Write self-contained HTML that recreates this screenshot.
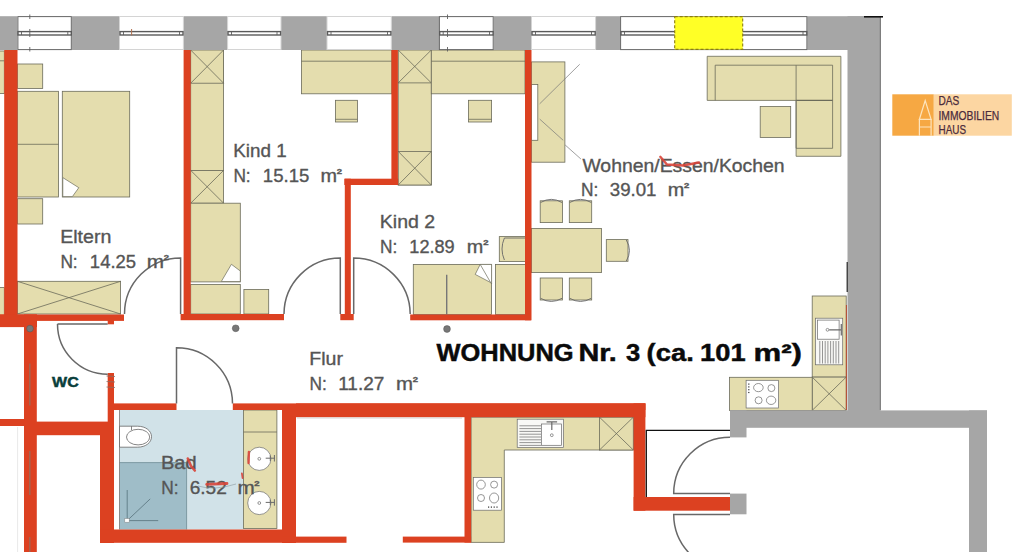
<!DOCTYPE html>
<html><head><meta charset="utf-8">
<style>
html,body{margin:0;padding:0;background:#fff;width:1024px;height:552px;overflow:hidden}
svg{display:block}
text{font-family:"Liberation Sans",sans-serif}
</style></head>
<body>
<svg width="1024" height="552" viewBox="0 0 1024 552">
<rect x="0" y="0" width="1024" height="552" fill="#fff"/>

<!-- ============ FLOOR FILLS (bath) ============ -->
<g id="bath">
  <rect x="119.6" y="410" width="123.9" height="119.5" fill="#d1e2e8"/>
  <rect x="119.6" y="462.6" width="67" height="66.9" fill="#9fbdc8"/>
  <path d="M119.6,462.6 H186.6 V529.5" fill="none" stroke="#6f8c96" stroke-width="0.8"/>
  <line x1="119.5" y1="410" x2="119.5" y2="529.5" stroke="#777" stroke-width="0.8"/>
  <!-- shower symbol -->
  <g stroke="#5f7a84" stroke-width="0.9" fill="none">
    <line x1="127.2" y1="490" x2="127.2" y2="520.6"/>
    <line x1="127.2" y1="520.6" x2="158.2" y2="520.6"/>
    <line x1="127.2" y1="520.6" x2="150.2" y2="498.9"/>
  </g>
  <rect x="124.8" y="518.6" width="4.4" height="3.6" fill="#fff" stroke="#888" stroke-width="0.5"/>
  <!-- toilet -->
  <path d="M119.5,426.2 H137.4 C146,426.2 151.5,431 151.5,436.7 C151.5,442.4 146,447.2 137.4,447.2 H119.5 Z" fill="#fff" stroke="#666" stroke-width="0.8"/>
  <ellipse cx="138.1" cy="437.1" rx="11.6" ry="7.8" fill="#fff" stroke="#666" stroke-width="0.8"/>
  <line x1="131.5" y1="426.2" x2="131.5" y2="430" stroke="#666" stroke-width="0.8"/>
</g>

<!-- ============ FURNITURE ============ -->
<g id="furn" fill="#e4ddae" stroke="#6b6b5a" stroke-width="0.8">
  <!-- left neighbour strip -->
  <rect x="-2" y="51" width="6.3" height="42.6"/>
  <line x1="-2" y1="60.8" x2="4.3" y2="60.8"/>
  <rect x="-2" y="287.6" width="6.3" height="32.6"/>
  <!-- Eltern -->
  <rect x="17.4" y="64" width="25.3" height="24.4"/>
  <rect x="17.4" y="91.3" width="41.1" height="105.7"/>
  <line x1="17.4" y1="144.3" x2="58.5" y2="144.3"/>
  <rect x="62.3" y="91.3" width="67.4" height="105.7"/>
  <rect x="17.4" y="198.7" width="25.3" height="25.3"/>
  <rect x="17.4" y="281.3" width="103.2" height="32.7"/>
  <line x1="17.4" y1="281.3" x2="120.6" y2="314"/>
  <line x1="17.4" y1="314" x2="120.6" y2="281.3"/>
  <!-- Kind 1 -->
  <rect x="190.7" y="50" width="32.9" height="120.4"/>
  <rect x="190.7" y="50" width="32.9" height="33.2"/>
  <line x1="190.7" y1="50" x2="223.6" y2="83.2"/><line x1="223.6" y1="50" x2="190.7" y2="83.2"/>
  <rect x="190.7" y="170.4" width="32.9" height="32.8"/>
  <line x1="190.7" y1="170.4" x2="223.6" y2="203.2"/><line x1="223.6" y1="170.4" x2="190.7" y2="203.2"/>
  <rect x="190.7" y="203.2" width="49.6" height="78.7"/>
  <rect x="190.7" y="284.4" width="49.6" height="29.6"/>
  <rect x="243.9" y="289.5" width="24.8" height="24.5"/>
  <rect x="301.4" y="50" width="90.5" height="43.8"/>
  <line x1="301.4" y1="61.2" x2="391.9" y2="61.2"/>
  <rect x="335.4" y="100.3" width="22" height="21.7"/>
  <line x1="335.4" y1="119.3" x2="357.4" y2="119.3"/>
  <!-- Kind 2 column -->
  <rect x="398.2" y="50" width="33.1" height="135"/>
  <rect x="398.2" y="50" width="33.1" height="32.9"/>
  <line x1="398.2" y1="50" x2="431.3" y2="82.9"/><line x1="431.3" y1="50" x2="398.2" y2="82.9"/>
  <rect x="398.2" y="151.4" width="33.1" height="33.6"/>
  <line x1="398.2" y1="151.4" x2="431.3" y2="185"/><line x1="431.3" y1="151.4" x2="398.2" y2="185"/>
  <rect x="431.3" y="50" width="93.7" height="43.8"/>
  <line x1="431.3" y1="61.2" x2="525" y2="61.2"/>
  <rect x="468.5" y="100.3" width="23.1" height="21.7"/>
  <line x1="468.5" y1="119.3" x2="491.6" y2="119.3"/>
  <rect x="413.3" y="264.4" width="78.3" height="50"/>
  <line x1="446.7" y1="274.8" x2="446.7" y2="314.4" stroke="#777" stroke-width="1.4"/>
  <rect x="495.4" y="264.4" width="30" height="50"/>
  <rect x="499.3" y="236.6" width="26.7" height="25"/>
  <!-- living -->
  <rect x="531.5" y="61.9" width="33.4" height="100.3"/>
  <rect x="531.5" y="84.5" width="6.3" height="55.8" fill="#fff"/>
  <path d="M707.2,56.3 H840.9 V156.3 H796.1 V100.4 H707.2 Z"/>
  <path d="M715.2,100.4 V65.2 H832.6 V148.3 H796.1" fill="none"/>
  <line x1="796.1" y1="65.2" x2="796.1" y2="148.3"/>
  <line x1="796.1" y1="100.4" x2="832.6" y2="100.4" stroke-width="1.1"/>
  <rect x="760.2" y="106.5" width="30.5" height="30.9"/>
  <!-- dining -->
  <rect x="531.5" y="228.5" width="70" height="44.1"/>
  <rect x="540.2" y="200.8" width="22.2" height="21.8"/>
  <rect x="569.3" y="200.8" width="22.4" height="21.8"/>
  <rect x="540.2" y="278" width="22.2" height="22"/>
  <rect x="569.3" y="278" width="22.4" height="22"/>
  <rect x="606.3" y="239.6" width="21.7" height="21.7"/>
  <!-- kitchen right -->
  <rect x="812.2" y="296" width="34" height="81.1"/>
  <rect x="812.2" y="377.1" width="34" height="33.3"/>
  <line x1="812.2" y1="377.1" x2="846.2" y2="410.4"/><line x1="846.2" y1="377.1" x2="812.2" y2="410.4"/>
  <rect x="729.6" y="377.3" width="82.6" height="33.1"/>
  <!-- kitchen bottom -->
  <path d="M471.1,417.2 H633.3 V450 H504.3 V542.4 H471.1 Z"/>
  <rect x="599.5" y="417.2" width="33.8" height="32.8"/>
  <line x1="599.5" y1="417.2" x2="633.3" y2="450"/><line x1="633.3" y1="417.2" x2="599.5" y2="450"/>
  <!-- bath counter -->
  <rect x="243.5" y="410" width="33.4" height="118.6"/>
  <line x1="243.5" y1="432" x2="276.9" y2="432"/>
</g>
<!-- chair backs -->
<g fill="none" stroke="#666" stroke-width="0.9">
  <path d="M540.6,202.5 Q551.3,196.2 562,202.5"/>
  <path d="M569.7,202.5 Q580.5,196.2 591.3,202.5"/>
  <path d="M540.6,298.3 Q551.3,304.6 562,298.3"/>
  <path d="M569.7,298.3 Q580.5,304.6 591.3,298.3"/>
  <path d="M626.3,240 Q632.6,250.5 626.3,261"/>
  <path d="M504.4,238 Q499.6,249 504.4,260"/>
  <line x1="504.4" y1="238" x2="526" y2="238"/>
</g>
<!-- TV lines -->
<g stroke="#777" stroke-width="0.7" fill="none">
  <line x1="539.7" y1="103.8" x2="579.7" y2="64.3"/>
  <line x1="539.7" y1="119.1" x2="563.2" y2="140.3"/>
  <line x1="565.2" y1="145" x2="580.9" y2="159"/>
</g>

<!-- bed blanket folds -->
<g fill="#fff" stroke="#6b6b5a" stroke-width="0.7">
  <path d="M62.8,177.6 L78.8,187.7 L72.4,196.6 L62.8,196.6 Z"/>
  <path d="M231.4,264.3 L240.3,271 L240.3,281.5 L221.3,281.5 Z"/>
  <path d="M480.2,264.4 L491.6,264.4 L491.6,284 L490.6,282.5 L475.2,274.4 Z"/>
  <line x1="480.2" y1="264.4" x2="490.6" y2="282.5"/>
</g>

<!-- sinks & cooktops -->
<g stroke="#6a6a6a" stroke-width="0.7">
  <!-- bath sinks -->
  <circle cx="259.3" cy="458.8" r="11.6" fill="#fff"/>
  <circle cx="259.3" cy="503" r="11.6" fill="#fff"/>
  <circle cx="259.3" cy="458.8" r="1.4" fill="none"/>
  <circle cx="259.3" cy="503" r="1.4" fill="none"/>
  <path d="M265.7,458.2 H274.5 M270.3,455.5 V461 M274.4,455 V461.5" fill="none" stroke-width="1"/>
  <path d="M265.7,502.4 H274.5 M270.3,499.7 V505.2 M274.4,499.2 V505.7" fill="none" stroke-width="1"/>
  <!-- kitchen right sink -->
  <rect x="815.5" y="318.2" width="27.2" height="46.6" fill="#f8f8f6"/>
  <rect x="817.4" y="320.1" width="21.7" height="19.1" fill="#fff"/>
  <path d="M819.8,341 V363.5 M822.5,341 V363.5 M825.2,341 V363.5 M827.9,341 V363.5 M830.6,341 V363.5 M833.3,341 V363.5 M836,341 V363.5 M838.7,341 V363.5" fill="none"/>
  <circle cx="827.5" cy="329.8" r="1.4" fill="#fff"/>
  <path d="M829.2,329.8 H841.3 M841.3,324 V335.5" fill="none" stroke-width="1.2"/>
  <!-- kitchen bottom sink -->
  <rect x="517.2" y="419.2" width="46.4" height="28.3" fill="#f8f8f6"/>
  <rect x="541.5" y="424" width="20.1" height="21.3" fill="#fff"/>
  <path d="M519.4,425.8 H541 M519.4,428.6 H541 M519.4,431.4 H541 M519.4,434.2 H541 M519.4,437 H541 M519.4,439.8 H541 M519.4,442.6 H541 M519.4,445.4 H541" fill="none"/>
  <circle cx="551.8" cy="435.2" r="1.4" fill="#fff"/>
  <path d="M546.6,421.8 H557.1 M551.8,421.8 V430.1" fill="none" stroke-width="1.2"/>
  <!-- cooktops -->
  <rect x="746.1" y="380.3" width="32.5" height="27.7" fill="#fff"/>
  <ellipse cx="758.4" cy="387.6" rx="4.8" ry="4.1" fill="none"/>
  <circle cx="771.4" cy="388.1" r="3.5" fill="none"/>
  <circle cx="758.6" cy="400.3" r="3.5" fill="none"/>
  <ellipse cx="771.1" cy="400.3" rx="4.7" ry="4.2" fill="none"/>
  <rect x="473.3" y="477.5" width="28.2" height="32.7" fill="#fff"/>
  <ellipse cx="481" cy="484.6" rx="4.3" ry="4.5" fill="none"/>
  <circle cx="494.1" cy="484.6" r="3.5" fill="none"/>
  <circle cx="481" cy="498" r="3.5" fill="none"/>
  <ellipse cx="494.1" cy="498" rx="4.6" ry="5" fill="none"/>
</g>
<g fill="#333">
  <rect x="748.2" y="383.5" width="1.2" height="1.2"/><rect x="748.2" y="386.3" width="1.2" height="1.2"/>
  <rect x="748.2" y="389.1" width="1.2" height="1.2"/><rect x="748.2" y="391.9" width="1.2" height="1.2"/>
  <rect x="488" y="506.5" width="1.2" height="1.2"/><rect x="490.8" y="506.5" width="1.2" height="1.2"/>
  <rect x="493.6" y="506.5" width="1.2" height="1.2"/><rect x="496.4" y="506.5" width="1.2" height="1.2"/>
</g>

<!-- ============ WALLS RED ============ -->
<g id="red" fill="#dc4121">
  <rect x="4.2" y="50" width="13.3" height="277"/>
  <rect x="0" y="314.5" width="124" height="6.4"/>
  <rect x="0" y="314.5" width="37" height="12.6"/>
  <rect x="24" y="314.5" width="12.8" height="238"/>
  <rect x="107.7" y="320" width="6.3" height="4.3"/>
  <rect x="107.7" y="373" width="6.3" height="63"/>
  <rect x="36" y="421.6" width="78" height="13.6"/>
  <rect x="0" y="419" width="24.5" height="7"/>
  <rect x="100" y="435" width="14" height="108"/>
  <rect x="100" y="529.5" width="182" height="13.3"/>
  <rect x="282" y="409" width="14" height="134"/>
  <rect x="282" y="536.6" width="64.5" height="6.2"/>
  <rect x="402.8" y="536.6" width="68.3" height="6"/>
  <rect x="464.5" y="410" width="6.6" height="132.6"/>
  <rect x="114" y="403.4" width="62.5" height="6.6"/>
  <rect x="232.8" y="403.4" width="412.6" height="6.6"/>
  <rect x="296" y="403.4" width="349.4" height="13.8"/>
  <rect x="633.6" y="403.4" width="11.8" height="107.3"/>
  <rect x="633.6" y="497" width="96.4" height="13.7"/>
  <!-- Kind 1 -->
  <rect x="183.6" y="50" width="7.1" height="270"/>
  <rect x="180.6" y="314" width="103.4" height="6.2"/>
  <rect x="391.4" y="50" width="6.5" height="135"/>
  <rect x="344.3" y="178.7" width="53.9" height="6.3"/>
  <rect x="344.8" y="178.7" width="6" height="141.3"/>
  <rect x="340.3" y="314" width="13.4" height="6.2"/>
  <rect x="410.2" y="314.5" width="120.7" height="5.8"/>
  <rect x="525" y="50" width="6.5" height="270.3"/>
</g>
<!-- thin red line on kitchen -->
<line x1="846.4" y1="305" x2="846.4" y2="410" stroke="#b84a30" stroke-width="1"/>
<!-- marks on red walls -->
<line x1="297" y1="418" x2="462" y2="418" stroke="#c8c8c8" stroke-width="0.8"/>
<g stroke="#8a6f66" stroke-width="1.1" opacity="0.8">
  <line x1="106.5" y1="376" x2="115" y2="376.5"/>
  <line x1="106.5" y1="381.5" x2="115" y2="382"/>
  <line x1="106.5" y1="387" x2="115" y2="387.5"/>
</g>
<line x1="17.6" y1="427" x2="17.6" y2="552" stroke="#e2e2e2" stroke-width="0.8"/>
<line x1="29.8" y1="363.6" x2="29.8" y2="405.6" stroke="#9a6a5a" stroke-width="1.3"/>
<line x1="29.8" y1="451" x2="29.8" y2="495" stroke="#9a6a5a" stroke-width="1.3"/>
<line x1="29.8" y1="537" x2="29.8" y2="552" stroke="#9a6a5a" stroke-width="1.2"/>

<!-- ============ WALLS GRAY ============ -->
<g id="gray" fill="#a6a6a6">
  <rect x="0" y="16.2" width="17.4" height="33.8"/>
  <rect x="71.6" y="16.2" width="47.9" height="33.8"/>
  <rect x="183.4" y="16.2" width="44.2" height="33.8"/>
  <rect x="281" y="16.2" width="46" height="33.8"/>
  <rect x="391.3" y="16.2" width="47.7" height="33.8"/>
  <rect x="493.6" y="16.2" width="37.9" height="33.8"/>
  <rect x="595.6" y="16.2" width="24.7" height="33.8"/>
  <rect x="807.2" y="16.2" width="73.5" height="33.8"/>
  <rect x="847.5" y="16.2" width="33.2" height="395"/>
  <rect x="730" y="410.4" width="257" height="17.4"/>
  <rect x="969" y="410.4" width="18" height="142"/>
  <rect x="730" y="410.4" width="16.5" height="27"/>
  <rect x="730" y="493.6" width="16.5" height="20.7"/>
</g>
<line x1="880.3" y1="17" x2="880.3" y2="410" stroke="#6a6a6a" stroke-width="0.9"/>
<line x1="864" y1="16.8" x2="883" y2="16.8" stroke="#111" stroke-width="1.6"/>
<line x1="847.2" y1="262" x2="847.2" y2="292" stroke="#222" stroke-width="1.2"/>

<!-- ============ WINDOWS ============ -->
<g id="win">
  <g stroke="#d4d4d4" stroke-width="1" fill="#fff">
    <rect x="119.5" y="16.5" width="63.9" height="33"/>
    <rect x="227.6" y="16.5" width="53.4" height="33"/>
    <rect x="327" y="16.5" width="64.3" height="33"/>
    <rect x="531.5" y="16.5" width="64.1" height="33"/>
  </g>
  <g stroke="#666" stroke-width="1" fill="#fff">
    <rect x="17.9" y="16.6" width="53.4" height="33"/>
    <rect x="439.4" y="16.6" width="53.8" height="33"/>
    <rect x="620.6" y="16.6" width="186.3" height="33"/>
  </g>
  <g stroke="#5a5a5a" stroke-width="1.4" fill="#fff">
    <rect x="18" y="31.6" width="53.3" height="3.4"/>
    <rect x="120" y="31.6" width="63" height="3.4"/>
    <rect x="228" y="31.6" width="52.6" height="3.4"/>
    <rect x="327.5" y="31.6" width="63.4" height="3.4"/>
    <rect x="439.7" y="31.6" width="53.4" height="3.4"/>
    <rect x="532" y="31.6" width="63.2" height="3.4"/>
    <rect x="621" y="31.6" width="185.8" height="3.4"/>
  </g>
  <g stroke="#5f5f5f" stroke-width="0.9">
    <line x1="21.5" y1="31.6" x2="21.5" y2="35"/><line x1="67.8" y1="31.6" x2="67.8" y2="35"/>
    <line x1="123.5" y1="31.6" x2="123.5" y2="35"/><line x1="179.5" y1="31.6" x2="179.5" y2="35"/>
    <line x1="231.5" y1="31.6" x2="231.5" y2="35"/><line x1="277" y1="31.6" x2="277" y2="35"/>
    <line x1="331" y1="31.6" x2="331" y2="35"/><line x1="387.5" y1="31.6" x2="387.5" y2="35"/>
    <line x1="443.2" y1="31.6" x2="443.2" y2="35"/><line x1="489.5" y1="31.6" x2="489.5" y2="35"/>
    <line x1="535.5" y1="31.6" x2="535.5" y2="35"/><line x1="591.5" y1="31.6" x2="591.5" y2="35"/>
    <line x1="624.5" y1="31.6" x2="624.5" y2="35"/><line x1="803" y1="31.6" x2="803" y2="35"/>
    <line x1="29.8" y1="14.5" x2="29.8" y2="19"/><line x1="29.8" y1="29" x2="29.8" y2="37"/><line x1="29.8" y1="47" x2="29.8" y2="51.5"/>
    <line x1="447.5" y1="14.5" x2="447.5" y2="19"/><line x1="447.5" y1="29" x2="447.5" y2="37"/><line x1="447.5" y1="47" x2="447.5" y2="51.5"/>
  </g>
  <line x1="131.6" y1="29" x2="131.6" y2="35.4" stroke="#b0704f" stroke-width="1"/>
  <rect x="674.7" y="16.6" width="68" height="32.8" fill="#ffff26" stroke="#8a7d10" stroke-width="1.1" stroke-dasharray="3,2"/>
</g>

<!-- ============ DOORS ============ -->
<g fill="none" stroke="#686868" stroke-width="1.5">
  <path d="M180.6,314 V257.9 A56.1,56.1 0 0 0 124.5,314"/>
  <path d="M340.3,314 V258 A56.3,56.3 0 0 0 284,314"/>
  <path d="M353.7,314 V258 A56.5,56.5 0 0 1 410.2,314"/>
  <path d="M57.5,324 H107.7 M57.5,324 A50.2,50.2 0 0 0 107.7,374.2"/>
  <path d="M176.5,403.4 V347.8 A56,56 0 0 1 232.5,403.4"/>
  <path d="M730,437.2 A56.3,56.3 0 0 0 673.7,493.5 H730"/>
  <path d="M730,514.6 H673.7 A56.3,56.3 0 0 0 690,554"/>
</g>
<path d="M730,430.3 H646.3 V497" fill="none" stroke="#111" stroke-width="1.3"/>

<!-- columns -->
<g fill="#777" stroke="#555" stroke-width="0.5">
  <circle cx="30" cy="328.6" r="3.4"/>
  <circle cx="235.7" cy="328.3" r="3.4"/>
  <circle cx="447" cy="329" r="3.4"/>
</g>

<!-- ============ TEXT ============ -->
<g fill="#555" stroke="#555" stroke-width="0.35">
  <text x="60.19" y="242.6" font-size="18.6" textLength="51.18" lengthAdjust="spacingAndGlyphs">Eltern</text>
  <text x="233.26" y="157.1" font-size="18.6" textLength="53.36" lengthAdjust="spacingAndGlyphs">Kind 1</text>
  <text x="379.8" y="227.9" font-size="18.6" textLength="55.38" lengthAdjust="spacingAndGlyphs">Kind 2</text>
  <text x="582.41" y="171.9" font-size="18.6" textLength="202.24" lengthAdjust="spacingAndGlyphs">Wohnen/Essen/Kochen</text>
  <text x="309.29" y="365.4" font-size="18.6" textLength="33.73" lengthAdjust="spacingAndGlyphs">Flur</text>
  <text x="160.95" y="468.75" font-size="18.6" textLength="35.74" lengthAdjust="spacingAndGlyphs">Bad</text>
  <text x="60.38" y="267.5" font-size="18" textLength="17.3" lengthAdjust="spacingAndGlyphs">N:</text>
  <text x="89.89" y="267.5" font-size="18" textLength="46.18" lengthAdjust="spacingAndGlyphs">14.25</text>
  <text x="146.83" y="267.5" font-size="18" textLength="17.24" lengthAdjust="spacingAndGlyphs">m</text>
  <text x="163.77" y="259.5" font-size="7.4" textLength="5.31" lengthAdjust="spacingAndGlyphs" font-weight="bold">2</text>
  <text x="233.38" y="181.5" font-size="18" textLength="17.3" lengthAdjust="spacingAndGlyphs">N:</text>
  <text x="262.88" y="181.5" font-size="18" textLength="46.5" lengthAdjust="spacingAndGlyphs">15.15</text>
  <text x="320.48" y="181.5" font-size="18" textLength="16.53" lengthAdjust="spacingAndGlyphs">m</text>
  <text x="336.77" y="173.5" font-size="7.4" textLength="5.31" lengthAdjust="spacingAndGlyphs" font-weight="bold">2</text>
  <text x="379.98" y="253" font-size="18" textLength="17.3" lengthAdjust="spacingAndGlyphs">N:</text>
  <text x="409.32" y="253" font-size="18" textLength="45.34" lengthAdjust="spacingAndGlyphs">12.89</text>
  <text x="466.88" y="253" font-size="18" textLength="16.53" lengthAdjust="spacingAndGlyphs">m</text>
  <text x="483.17" y="245.0" font-size="7.4" textLength="5.31" lengthAdjust="spacingAndGlyphs" font-weight="bold">2</text>
  <text x="581.08" y="195.8" font-size="18" textLength="17.3" lengthAdjust="spacingAndGlyphs">N:</text>
  <text x="609.79" y="195.8" font-size="18" textLength="46.72" lengthAdjust="spacingAndGlyphs">39.01</text>
  <text x="667.68" y="195.8" font-size="18" textLength="16.53" lengthAdjust="spacingAndGlyphs">m</text>
  <text x="683.97" y="187.8" font-size="7.4" textLength="5.31" lengthAdjust="spacingAndGlyphs" font-weight="bold">2</text>
  <text x="309.48" y="390" font-size="18" textLength="17.3" lengthAdjust="spacingAndGlyphs">N:</text>
  <text x="338.2" y="390" font-size="18" textLength="46.13" lengthAdjust="spacingAndGlyphs">11.27</text>
  <text x="395.94" y="390" font-size="18" textLength="17.0" lengthAdjust="spacingAndGlyphs">m</text>
  <text x="412.67" y="382.0" font-size="7.4" textLength="5.31" lengthAdjust="spacingAndGlyphs" font-weight="bold">2</text>
  <text x="161.18" y="494" font-size="18" textLength="17.3" lengthAdjust="spacingAndGlyphs">N:</text>
  <text x="189.73" y="494" font-size="18" textLength="37.13" lengthAdjust="spacingAndGlyphs">6.52</text>
  <text x="237.43" y="494" font-size="18" textLength="17.24" lengthAdjust="spacingAndGlyphs">m</text>
  <text x="254.37" y="486.0" font-size="7.4" textLength="5.31" lengthAdjust="spacingAndGlyphs" font-weight="bold">2</text>
<g font-weight="bold" fill="#0a0a0a" stroke="#0a0a0a" stroke-width="0.45">
  <text x="436.48" y="360.5" font-size="23.5" textLength="137.1" lengthAdjust="spacingAndGlyphs">WOHNUNG</text>
  <text x="578.45" y="360.5" font-size="23.5" textLength="38.46" lengthAdjust="spacingAndGlyphs">Nr.</text>
  <text x="626.01" y="360.5" font-size="23.5" textLength="14.21" lengthAdjust="spacingAndGlyphs">3</text>
  <text x="646.63" y="360.5" font-size="23.5" textLength="47.25" lengthAdjust="spacingAndGlyphs">(ca.</text>
  <text x="700.08" y="360.5" font-size="23.5" textLength="45.48" lengthAdjust="spacingAndGlyphs">101</text>
  <text x="753.44" y="360.5" font-size="23.5" textLength="48.51" lengthAdjust="spacingAndGlyphs">m²)</text>
</g>

</g>
<text x="52.1" y="387.3" font-size="15.1" font-weight="bold" fill="#093e3b" stroke="#093e3b" stroke-width="0.5" textLength="26.6" lengthAdjust="spacingAndGlyphs">WC</text>


<!-- red scribbles -->
<g fill="none" stroke="#d9453a" stroke-linecap="round" opacity="0.9">
  <path d="M660.3,156.8 L667,164.5 L683,165.5 L699,162.5" stroke-width="2.4"/>
  <path d="M187.8,458.5 L191,466 L194.8,470.5" stroke-width="2.6"/>
  <path d="M206.6,484.3 L227,483.5" stroke-width="2.8"/>
  <path d="M248.9,452 L248.6,463" stroke-width="2.4"/>
  <path d="M241.9,473.4 L242.6,478" stroke-width="1.8"/>
</g>
<path d="M198,486 Q214,491 236,484" fill="none" stroke="#8a9aa0" stroke-width="1" opacity="0.6"/>

<!-- ============ LOGO ============ -->
<g>
  <rect x="892.3" y="94.3" width="41.5" height="41.4" fill="#f6a843"/>
  <rect x="933.8" y="94.3" width="78" height="41.4" fill="#fcd6a2"/>
  <g fill="none" stroke="#fde4bd" stroke-width="1.2">
    <path d="M919.4,119.3 L925.2,100.5 L931.1,119.3 Z"/>
    <path d="M919.4,119.3 V135.7 M931.1,119.3 V135.7 M919.4,127 H931.1"/>
  </g>
  <g fill="#4b2b3c" stroke="#4b2b3c" stroke-width="0.25" font-size="12.6">
    <text x="938.5" y="105.0" textLength="20.8" lengthAdjust="spacingAndGlyphs">DAS</text>
    <text x="938.5" y="119.5" textLength="60.8" lengthAdjust="spacingAndGlyphs">IMMOBILIEN</text>
    <text x="938.5" y="134.3" textLength="27.5" lengthAdjust="spacingAndGlyphs">HAUS</text>
  </g>
</g>

</svg>
</body></html>
